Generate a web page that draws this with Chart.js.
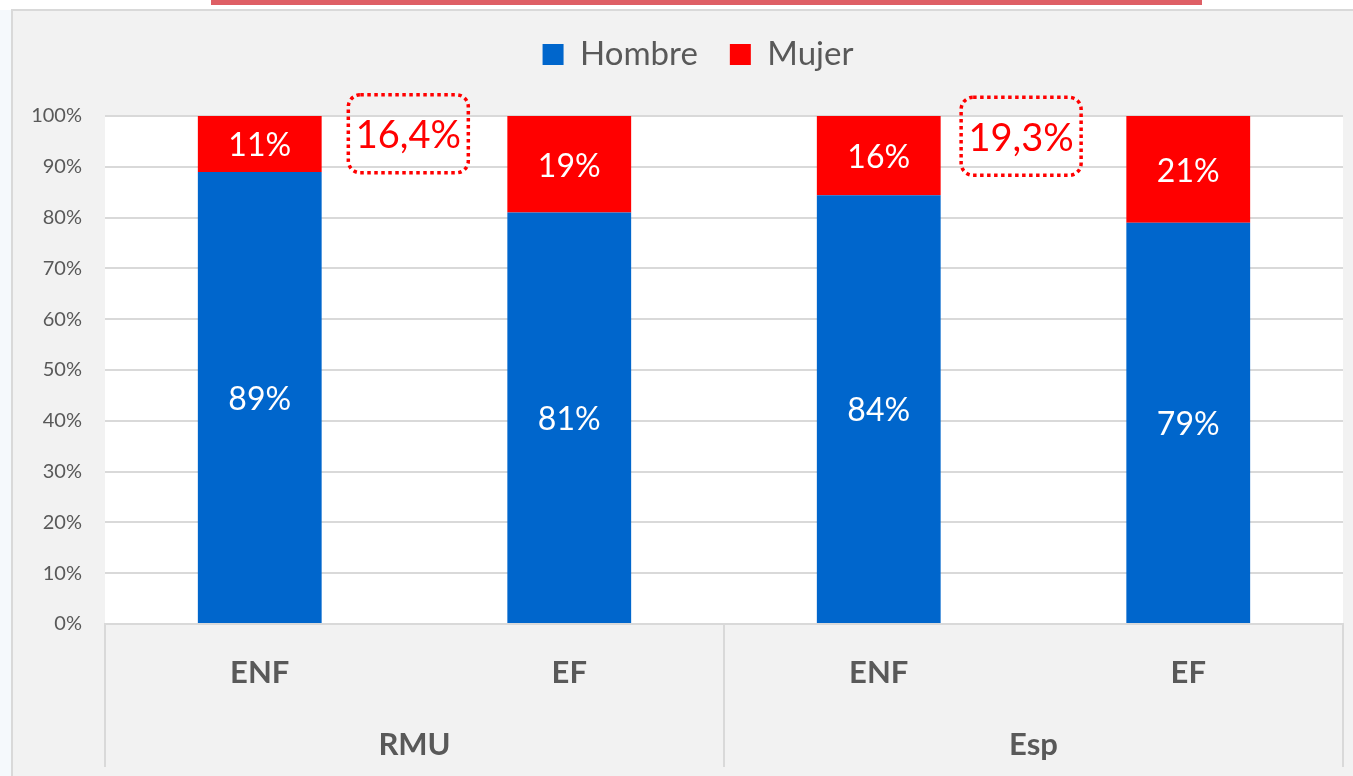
<!DOCTYPE html>
<html><head><meta charset="utf-8">
<script src="https://cdn.jsdelivr.net/npm/chart.js@4/dist/chart.umd.min.js"></script>
<style>html,body{margin:0;padding:0;background:#fff;overflow:hidden}#wrap{position:relative;width:1353px;height:776px}</style>
</head><body><div id="wrap"><canvas id="c" width="1353" height="776"></canvas></div>
<script>
const categories = ['ENF', 'EF', 'ENF', 'EF'];
const groups = ['RMU', 'Esp'];
const hombre = [89, 81, 84.4, 79];
const mujer = [11, 19, 15.6, 21];
const gapLabels = ['16,4%', '19,3%'];
const gapAtCategory = [0.48, 2.46];
const gapAtValue = [96.5, 96];

const FONT = 'Lato, "Open Sans", sans-serif';
const TXT = '#595959';
const GRID = '#d9d9d9';

const bgPlugin = {
  id: 'bg',
  beforeDraw(chart) {
    const ctx = chart.ctx, a = chart.chartArea;
    ctx.save();
    ctx.fillStyle = '#ffffff';
    ctx.fillRect(0, 0, chart.width, chart.height);
    ctx.fillStyle = '#f5f9fc';
    ctx.fillRect(0, 10, 12, chart.height);
    ctx.fillStyle = '#f2f2f2';
    ctx.fillRect(12, 10, chart.width - 12, chart.height - 10);
    ctx.strokeStyle = GRID; ctx.lineWidth = 2;
    ctx.beginPath(); ctx.moveTo(12, chart.height); ctx.lineTo(12, 10); ctx.lineTo(chart.width, 10); ctx.stroke();
    ctx.fillStyle = '#de5f65';
    ctx.fillRect(211, 0, 991, 5);
    ctx.fillStyle = '#ffffff';
    ctx.fillRect(a.left, a.top, a.right - a.left, a.bottom - a.top);
    ctx.restore();
  }
};

const valueLabels = {
  id: 'valueLabels',
  afterDatasetsDraw(chart) {
    const ctx = chart.ctx;
    ctx.save();
    ctx.font = '32px ' + FONT;
    ctx.fillStyle = '#ffffff';
    ctx.textAlign = 'center';
    ctx.textBaseline = 'middle';
    chart.data.datasets.forEach((ds, di) => {
      chart.getDatasetMeta(di).data.forEach((el, i) => {
        ctx.fillText(Math.round(ds.data[i]) + '%', el.x, (el.y + el.base) / 2 + 2);
      });
    });
    ctx.restore();
  }
};

const gapNotes = {
  id: 'gapNotes',
  afterDraw(chart) {
    const ctx = chart.ctx, xs = chart.scales.x, ys = chart.scales.y;
    ctx.save();
    gapLabels.forEach((t, i) => {
      const cx = xs.getPixelForValue(gapAtCategory[i]);
      const cy = ys.getPixelForValue(gapAtValue[i]);
      const w = 120, h = 78, r = 12;
      ctx.strokeStyle = '#ff0000';
      ctx.lineWidth = 3.5;
      ctx.setLineDash([3.5, 3.5]);
      ctx.beginPath();
      ctx.roundRect(cx - w / 2, cy - h / 2, w, h, r);
      ctx.stroke();
      ctx.setLineDash([]);
      ctx.fillStyle = '#ff0000';
      ctx.font = '38px ' + FONT;
      ctx.textAlign = 'center';
      ctx.textBaseline = 'middle';
      ctx.fillText(t, cx, cy + 2);
    });
    ctx.restore();
  }
};

new Chart(document.getElementById('c'), {
  type: 'bar',
  data: {
    labels: categories,
    datasets: [
      { label: 'Hombre', data: hombre, backgroundColor: '#0066cc', categoryPercentage: 1, barPercentage: 0.4 },
      { label: 'Mujer', data: mujer, backgroundColor: '#ff0000', categoryPercentage: 1, barPercentage: 0.4 }
    ]
  },
  options: {
    responsive: false,
    animation: false,
    devicePixelRatio: 1,
    layout: { padding: { top: 6, left: 12, right: -31, bottom: 9 } },
    plugins: {
      legend: {
        position: 'top',
        labels: { boxWidth: 21, boxHeight: 21, padding: 32, color: TXT, font: { family: FONT, size: 33 } }
      },
      title: { display: true, text: ' ', weight: 500, font: { size: 10, lineHeight: 1 }, padding: { top: 0, bottom: 25 } },
      tooltip: { enabled: false }
    },
    scales: {
      x: {
        stacked: true,
        weight: 0,
        offset: true,
        grid: {
          offset: true, drawOnChartArea: false, drawTicks: true, tickLength: 96, lineWidth: 2,
          color: c => (c.index === undefined || c.index % 2 === 0) ? GRID : 'rgba(0,0,0,0)'
        },
        border: { display: true, color: GRID, width: 2 },
        ticks: { color: TXT, font: { family: FONT, size: 31, weight: 'bold' }, padding: -66, maxRotation: 0, autoSkip: false },
        afterFit: s => { s.height = 96; }
      },
      x2: {
        type: 'category',
        labels: groups,
        position: 'bottom',
        weight: 1,
        offset: true,
        grid: { offset: true, drawOnChartArea: false, drawTicks: true, tickLength: 47, lineWidth: 2, color: GRID },
        border: { display: false },
        ticks: { color: TXT, font: { family: FONT, size: 31, weight: 'bold' }, padding: -41, maxRotation: 0, autoSkip: false },
        afterFit: s => { s.height = 47; }
      },
      y: {
        stacked: true,
        min: 0, max: 100,
        ticks: { stepSize: 10, callback: v => v + '%', color: TXT, font: { family: FONT, size: 20 }, padding: 23 },
        grid: { color: GRID, lineWidth: 2, drawTicks: false },
        border: { display: false },
        afterFit: s => { s.width = 93; }
      },
      yRightSpace: {
        type: 'linear',
        position: 'right',
        display: true,
        grid: { display: false },
        ticks: { display: false },
        border: { display: false },
        afterFit: s => { s.width = 41; }
      }
    }
  },
  plugins: [bgPlugin, valueLabels, gapNotes]
});
</script></body></html>
